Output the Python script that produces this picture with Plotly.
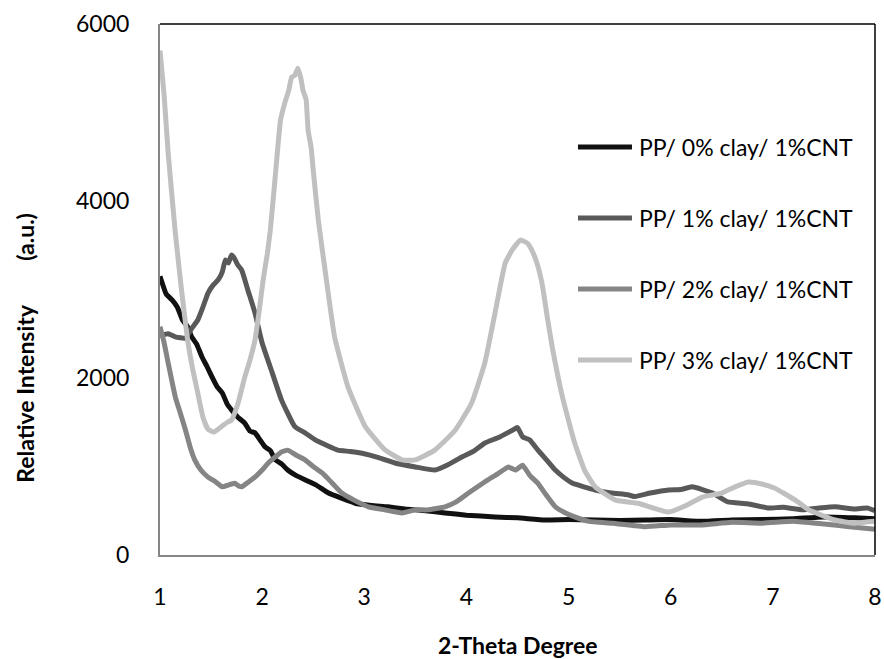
import plotly.graph_objects as go

# ---- data ----
x0 = [1.00, 1.06, 1.12, 1.17, 1.22, 1.27, 1.31, 1.36, 1.41, 1.46, 1.51, 1.56, 1.61, 1.66, 1.70, 1.76, 1.83, 1.88, 1.93, 1.98, 2.03, 2.08, 2.13, 2.19, 2.25, 2.33, 2.42, 2.53, 2.65, 2.78, 2.91, 3.07, 3.23, 3.40, 3.60, 3.79, 4.00, 4.28, 4.50, 4.77, 5.00, 5.26, 5.50, 5.75, 6.00, 6.30, 6.60, 6.90, 7.20, 7.50, 7.80, 8.00]
y0 = [3150, 2950, 2880, 2800, 2655, 2580, 2465, 2380, 2240, 2130, 2010, 1900, 1830, 1700, 1640, 1560, 1490, 1400, 1380, 1300, 1220, 1180, 1075, 1030, 960, 900, 850, 790, 700, 640, 585, 560, 545, 520, 500, 475, 450, 430, 420, 395, 400, 395, 390, 395, 400, 380, 395, 400, 410, 430, 420, 410]

x1 = [1.00, 1.08, 1.15, 1.25, 1.31, 1.37, 1.42, 1.47, 1.52, 1.57, 1.61, 1.64, 1.67, 1.70, 1.73, 1.76, 1.80, 1.86, 1.93, 2.00, 2.10, 2.19, 2.32, 2.42, 2.52, 2.63, 2.74, 2.86, 2.98, 3.14, 3.30, 3.50, 3.69, 3.82, 3.96, 4.08, 4.18, 4.32, 4.45, 4.50, 4.55, 4.62, 4.70, 4.78, 4.87, 4.95, 5.04, 5.15, 5.26, 5.42, 5.58, 5.65, 5.80, 5.98, 6.10, 6.21, 6.41, 6.56, 6.75, 6.96, 7.10, 7.29, 7.45, 7.61, 7.80, 7.93, 8.00]
y1 = [2480, 2500, 2465, 2450, 2560, 2655, 2800, 2960, 3050, 3110, 3200, 3335, 3300, 3390, 3350, 3280, 3220, 2995, 2735, 2395, 2055, 1750, 1450, 1380, 1300, 1240, 1185, 1170, 1150, 1100, 1040, 995, 960, 1020, 1110, 1180, 1265, 1330, 1410, 1440, 1335, 1300, 1185, 1080, 960, 880, 810, 770, 735, 700, 680, 660, 700, 735, 740, 770, 700, 600, 580, 530, 540, 510, 530, 545, 520, 530, 500]

x2 = [1.00, 1.04, 1.08, 1.15, 1.20, 1.25, 1.30, 1.34, 1.40, 1.47, 1.54, 1.61, 1.67, 1.73, 1.77, 1.80, 1.86, 1.93, 2.00, 2.06, 2.12, 2.19, 2.25, 2.33, 2.42, 2.50, 2.59, 2.68, 2.78, 2.90, 3.04, 3.20, 3.37, 3.50, 3.62, 3.79, 3.90, 4.02, 4.12, 4.21, 4.31, 4.41, 4.48, 4.55, 4.62, 4.70, 4.78, 4.87, 4.96, 5.06, 5.20, 5.43, 5.75, 6.00, 6.30, 6.60, 6.90, 7.20, 7.50, 7.75, 8.00]
y2 = [2580, 2400, 2170, 1785, 1600, 1410, 1200, 1075, 960, 880, 830, 770, 790, 810, 780, 770, 820, 880, 960, 1040, 1100, 1165, 1185, 1130, 1075, 1000, 925, 820, 700, 620, 545, 510, 475, 510, 510, 545, 600, 700, 780, 850, 920, 995, 960, 1015, 900, 810, 680, 545, 480, 430, 380, 360, 320, 340, 340, 370, 360, 380, 350, 320, 290]

x3 = [1.00, 1.04, 1.08, 1.15, 1.21, 1.27, 1.32, 1.37, 1.42, 1.47, 1.53, 1.60, 1.66, 1.70, 1.76, 1.83, 1.88, 1.93, 1.97, 2.01, 2.05, 2.08, 2.13, 2.18, 2.22, 2.26, 2.29, 2.32, 2.35, 2.38, 2.40, 2.43, 2.45, 2.48, 2.50, 2.55, 2.62, 2.71, 2.84, 3.01, 3.20, 3.37, 3.50, 3.69, 3.89, 4.05, 4.18, 4.28, 4.38, 4.45, 4.53, 4.60, 4.64, 4.69, 4.74, 4.79, 4.84, 4.94, 5.06, 5.16, 5.26, 5.46, 5.68, 5.98, 6.15, 6.31, 6.50, 6.63, 6.76, 6.90, 7.02, 7.22, 7.35, 7.50, 7.61, 7.78, 7.93, 8.00]
y3 = [5700, 5200, 4540, 3640, 3000, 2430, 2100, 1830, 1560, 1420, 1390, 1450, 1500, 1525, 1700, 2010, 2200, 2430, 2750, 3110, 3400, 3670, 4300, 4915, 5100, 5250, 5400, 5420, 5500, 5380, 5250, 5150, 4800, 4600, 4350, 3785, 3185, 2460, 1900, 1450, 1190, 1075, 1075, 1185, 1410, 1715, 2170, 2735, 3300, 3450, 3560, 3520, 3445, 3300, 3070, 2700, 2350, 1785, 1265, 950, 770, 620, 585, 485, 560, 655, 700, 770, 825, 800, 755, 620, 510, 440, 395, 360, 375, 380]

names = ["PP/ 0% clay/ 1%CNT", "PP/ 1% clay/ 1%CNT", "PP/ 2% clay/ 1%CNT", "PP/ 3% clay/ 1%CNT"]
colors = ["#111111", "#595959", "#858585", "#c0c0c0"]

FONT = "Lato, 'Open Sans', sans-serif"
FS = 23

fig = go.Figure()
for xs, ys, nm, c in zip([x0, x1, x2, x3], [y0, y1, y2, y3], names, colors):
    fig.add_trace(go.Scatter(x=xs, y=ys, mode="lines", name=nm,
                             line=dict(color=c, width=5, shape="spline", smoothing=0.4),
                             showlegend=False))

# manual legend (Excel style: long line sample, text to the right)
leg_y = [0.7684, 0.6347, 0.5009, 0.3672]
shapes = []
annotations = []
for nm, c, yy in zip(names, colors, leg_y):
    shapes.append(dict(type="line", xref="paper", yref="paper", x0=0.5846, x1=0.6601,
                       y0=yy, y1=yy, line=dict(color=c, width=5)))
    annotations.append(dict(text=nm, xref="paper", yref="paper", x=0.6671, y=yy,
                            xanchor="left", yanchor="middle", showarrow=False,
                            font=dict(family=FONT, size=FS, color="#000000")))

# frame: top and right black
shapes.append(dict(type="line", xref="paper", yref="paper", x0=0, x1=1, y0=1, y1=1,
                   line=dict(color="#000000", width=1.5)))
shapes.append(dict(type="line", xref="paper", yref="paper", x0=1, x1=1, y0=0, y1=1,
                   line=dict(color="#000000", width=1.5)))

annotations.append(dict(text="<b>2-Theta Degree</b>", xref="paper", yref="paper",
                        x=0.5, y=-0.169, xanchor="center", yanchor="middle", showarrow=False,
                        font=dict(family=FONT, size=FS, color="#000000")))
annotations.append(dict(text="<b>Relative Intensity&nbsp;&nbsp;&nbsp;&nbsp;&nbsp;&nbsp;&nbsp;&nbsp;(a.u.)</b>",
                        xref="paper", yref="paper", textangle=-90,
                        x=-0.189, y=0.39, xanchor="center", yanchor="middle", showarrow=False,
                        font=dict(family=FONT, size=FS, color="#000000")))

fig.update_layout(
    width=884, height=659,
    margin=dict(l=160, r=9, t=24, b=104, autoexpand=False),
    paper_bgcolor="white", plot_bgcolor="white",
    shapes=shapes, annotations=annotations,
    font=dict(family=FONT, size=FS, color="#000000"),
)
fig.update_xaxes(range=[1, 8], dtick=1, tick0=1, showgrid=False, zeroline=False,
                 showline=True, linecolor="#868686", linewidth=2, ticks="", automargin=False,
                 ticklabelstandoff=20, tickfont=dict(size=FS, family=FONT))
fig.update_yaxes(range=[0, 6000], dtick=2000, tick0=0, showgrid=False, zeroline=False,
                 showline=True, linecolor="#868686", linewidth=2, ticks="", automargin=False,
                 ticklabelstandoff=24, tickfont=dict(size=FS, family=FONT))

fig.write_html("out.html")
